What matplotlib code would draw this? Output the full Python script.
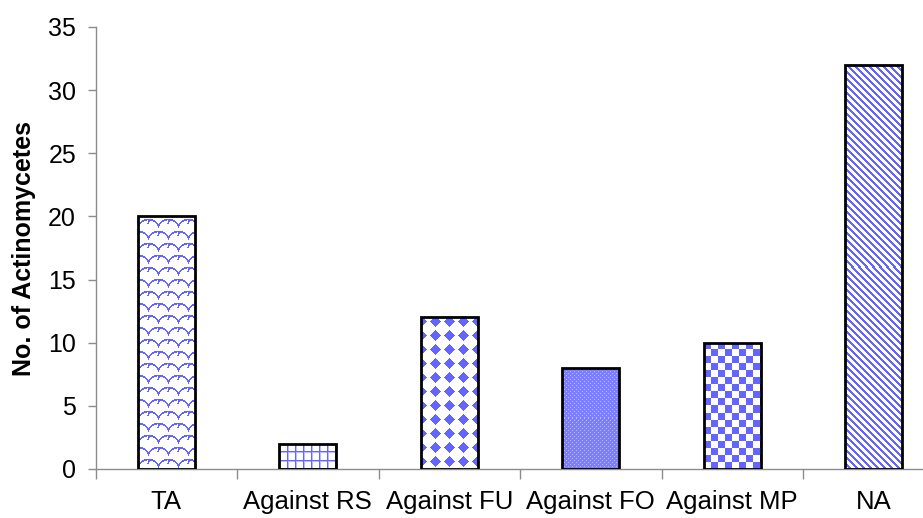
import numpy as np
import matplotlib
matplotlib.use("Agg")
import matplotlib.pyplot as plt
from matplotlib.ticker import FixedLocator

plt.rcParams['font.family'] = ['Liberation Sans', 'DejaVu Sans']

categories = ["TA", "Against RS", "Against FU", "Against FO", "Against MP", "NA"]
counts = [20, 2, 12, 8, 10, 32]
fills = ["scales", "grid", "diamonds", "fine", "checker", "stripes"]
yticks = [0, 5, 10, 15, 20, 25, 30, 35]

blue = np.array([100, 100, 255]) / 255.0
mid = np.array([125, 125, 255]) / 255.0
light = np.array([185, 185, 255]) / 255.0
axis_gray = "#8c8c8c"

W_PX, H_PX = 923, 518
slot = 141.5
n = len(categories)
left_px, bottom_px, top_px = 95.5, 49, 27
plot_h = H_PX - bottom_px - top_px
bar_w = 0.4


def texture(kind, h, w):
    """RGB pixel pattern (rows top->bottom) used to fill a bar."""
    yy, xx = np.mgrid[0:h, 0:w]
    img = np.ones((h, w, 3))
    if kind == "grid":
        m = (xx % 8 < 2) | (yy % 8 < 2)
        img[m] = light
        img[(xx % 8 == 0) | (yy % 8 == 0)] = blue
    elif kind == "diamonds":
        dx = np.abs((xx + 7) % 14 - 7)
        dy = np.abs((yy + 3) % 14 - 7)
        img[dx + dy <= 5] = blue
    elif kind == "fine":
        img[:] = mid
        img[(xx % 4 == 0) & (yy % 4 == 0)] = light
        img[(xx % 4 == 2) & (yy % 4 == 2)] = light
    elif kind == "checker":
        m = ((xx // 7) + (yy // 7)) % 2 == 0
        img[m] = blue
    elif kind == "stripes":
        m = (xx - yy) % 7 < 3
        img[m] = blue
    elif kind == "scales":
        # offset rows of arcs forming a scale-like outline pattern
        row = yy // 12
        u = (xx + (row % 2) * 10) % 20 - 10
        v = yy % 12
        r = np.sqrt(u ** 2 + (v - 14) ** 2)
        m1 = np.abs(r - 11) < 0.9
        m2 = (np.abs(u + 0.3 * (v - 6)) < 0.9) & (v > 2) & (v < 8)
        img[m1 | m2] = blue
    return img


fig = plt.figure(figsize=(W_PX / 100, H_PX / 100), dpi=100)
ax = fig.add_axes([left_px / W_PX, bottom_px / H_PX,
                   slot * n / W_PX, plot_h / H_PX])

x = np.arange(n)
outlines = ax.bar(x, counts, width=bar_w, facecolor="none",
                  edgecolor="black", linewidth=2, zorder=3)

ax.set_xlim(-0.5, n - 0.5)
ax.set_ylim(0, 35)

for rect, v, kind in zip(outlines, counts, fills):
    x0 = rect.get_x()
    (dx0, dy0), (dx1, dy1) = ax.transData.transform([(x0, 0), (x0 + bar_w, v)])
    w = max(1, int(round(dx1 - dx0)))
    h = max(1, int(round(dy1 - dy0)))
    im = ax.imshow(texture(kind, h, w), extent=(x0, x0 + bar_w, 0, v),
                   aspect="auto", interpolation="nearest", zorder=2)
    im.set_clip_path(rect)

ax.set_xlim(-0.5, n - 0.5)
ax.set_ylim(0, 35)
ax.set_yticks(yticks)
ax.set_xticks(x)
ax.set_xticklabels(categories, fontsize=18.5)
ax.xaxis.set_minor_locator(FixedLocator([i - 0.5 for i in range(n + 1)]))
ax.tick_params(axis="x", which="major", length=0, pad=15)
ax.tick_params(axis="x", which="minor", length=7, color=axis_gray, width=1)
ax.tick_params(axis="y", length=6, color=axis_gray, width=1, labelsize=18, pad=8)

for side in ("top", "right"):
    ax.spines[side].set_visible(False)
for side in ("left", "bottom"):
    ax.spines[side].set_color(axis_gray)
    ax.spines[side].set_linewidth(1)

ax.set_ylabel("No. of Actinomycetes", fontsize=18, fontweight="bold", labelpad=9)

fig.savefig("out.png", dpi=100)
